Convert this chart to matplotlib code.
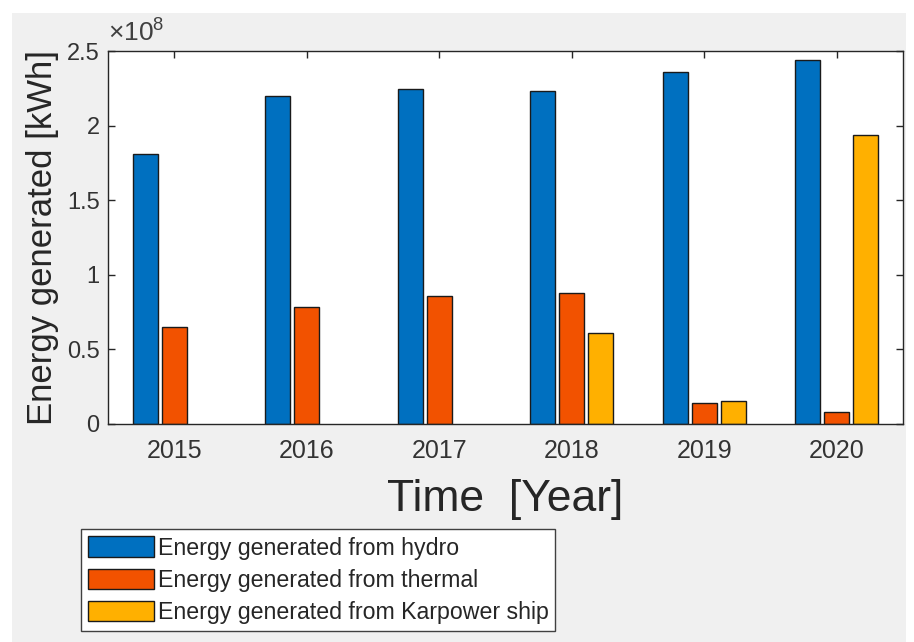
import matplotlib
matplotlib.use("Agg")
import matplotlib.pyplot as plt
import numpy as np
from matplotlib.ticker import FuncFormatter
from matplotlib.patches import Rectangle

years = [2015, 2016, 2017, 2018, 2019, 2020]
hydro = [1.811e8, 2.200e8, 2.242e8, 2.233e8, 2.362e8, 2.438e8]
thermal = [0.651e8, 0.782e8, 0.860e8, 0.878e8, 0.144e8, 0.078e8]
karpower = [0.0, 0.0, 0.0, 0.611e8, 0.155e8, 1.940e8]
series_labels = ["Energy generated from hydro",
                 "Energy generated from thermal",
                 "Energy generated from Karpower ship"]
colors = ["#0070C0", "#F25200", "#FFB000"]

plt.rcParams['font.family'] = ['Liberation Sans', 'DejaVu Sans']
plt.rcParams['mathtext.fontset'] = 'custom'
plt.rcParams['mathtext.rm'] = 'Liberation Sans'
plt.rcParams['mathtext.it'] = 'Liberation Sans'

W, H = 914, 642
fig = plt.figure(figsize=(W / 100, H / 100), dpi=100, facecolor="white")
fig.patches.append(Rectangle((12 / W, 0), (906 - 12) / W, (642 - 13) / H,
                             transform=fig.transFigure, facecolor="#F0F0F0",
                             edgecolor="none", zorder=-10))

ax = fig.add_axes([108 / W, (642 - 424) / H, (903 - 108) / W, (424 - 51) / H])
ax.set_facecolor("white")

x = np.array(years, dtype=float)
bw = 0.19
off = 0.22
for i, (vals, c, lab) in enumerate(zip([hydro, thermal, karpower], colors, series_labels)):
    v = np.array(vals, dtype=float)
    m = v > 0
    ax.bar((x + (i - 1) * off)[m], v[m], width=bw, color=c, edgecolor="#1a1a1a",
           linewidth=1.0, label=lab, zorder=2)

ax.set_xlim(2014.5, 2020.5)
ax.set_ylim(0, 2.5e8)
ax.set_xticks(years)
ax.set_xticklabels([str(y) for y in years])
ax.set_yticks([0, 0.5e8, 1e8, 1.5e8, 2e8, 2.5e8])
ax.yaxis.set_major_formatter(FuncFormatter(lambda v, p: f"{v / 1e8:g}"))
ax.text(0.0, 1.012, r"$\times10^{8}$", transform=ax.transAxes, fontsize=19,
        color="#404040", ha="left", va="bottom")

ax.tick_params(direction="in", length=5, width=1, colors="#262626",
               labelsize=17, top=True, right=True, labelcolor="#333333")
ax.tick_params(axis="x", pad=11, labelsize=18)
ax.tick_params(axis="y", pad=6)
for s in ax.spines.values():
    s.set_color("#262626")
    s.set_linewidth(1.0)

ax.set_xlabel("Time  [Year]", fontsize=32, color="#262626")
ax.xaxis.set_label_coords(0.5, -0.148)
ax.set_ylabel("Energy generated [kWh]", fontsize=25, color="#262626")
ax.yaxis.set_label_coords(-0.062, 0.5)

leg = fig.legend(loc="lower left", bbox_to_anchor=(81 / W, 11 / H),
                 borderaxespad=0, fontsize=16.7, handlelength=2.85, handleheight=1.0,
                 handletextpad=0.15, labelspacing=0.38, borderpad=0.3,
                 fancybox=False, framealpha=1, edgecolor="#404040",
                 facecolor="white")
leg.get_frame().set_linewidth(1.0)
for t in leg.get_texts():
    t.set_color("#262626")

fig.savefig("out.png", dpi=100, facecolor=fig.get_facecolor())
